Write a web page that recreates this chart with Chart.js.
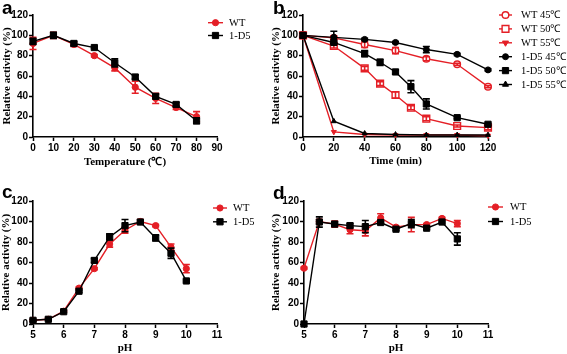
<!DOCTYPE html>
<html><head><meta charset="utf-8">
<script src="https://cdn.jsdelivr.net/npm/chart.js@4"></script>
<style>
body{margin:0;width:567px;height:354px;background:#fff;position:relative;overflow:hidden}
.p{position:absolute}
.lbl{position:absolute;font:bold 19px 'Liberation Sans',Arial,sans-serif;line-height:1;color:#000}
</style></head><body>
<div class="p" style="left:0;top:0"><canvas id="ca" width="266" height="177"></canvas></div>
<div class="p" style="left:266px;top:0"><canvas id="cb" width="301" height="177"></canvas></div>
<div class="p" style="left:0;top:177px"><canvas id="cc" width="266" height="177"></canvas></div>
<div class="p" style="left:266px;top:177px"><canvas id="cd" width="301" height="177"></canvas></div>
<div class="lbl" style="left:2px;top:-2px">a</div>
<div class="lbl" style="left:273px;top:-2px">b</div>
<div class="lbl" style="left:2px;top:182px">c</div>
<div class="lbl" style="left:273px;top:183px">d</div>
<script>
// ---------- data ----------
const activityTicks = [0,20,40,60,80,100,120];
const tempTicks = [0,10,20,30,40,50,60,70,80,90];
const timeTicks = [0,20,40,60,80,100,120];
const pHTicks = [5,6,7,8,9,10,11];

// a: temperature
const tempC = [0,10,20,30,40,50,60,70,80];
const tempWT = [92,100,91,80,68,49,38,29,20];
const tempWTErr = [6,3,2,1,3,6,5,2,5];
const tempD5 = [94,100,92,88,73,59,40,32,16];
const tempD5Err = [3,3,2,1,4,2,2,2,3];

// b: thermostability over time
const timeSet1 = [0,20,40,60,80,100,120];
const timeSet2 = [0,20,40,50,60,70,80,100,120];
const wt45 = [100,97.5,91,85,77,71.5,49.5];
const wt45Err = [2,2,3,3,2,1,1];
const wt50 = [100,89.5,67.5,52.5,41.3,28.8,18,10.8,9.2];
const wt50Err = [3,2,2,2,3,2,2,1,2];
const wt55 = [100,5,2.5,2,2,2,1.3];
const d545 = [100,98,96,93,86,81.3,66];
const d545Err = [2,6,1,1,3,1,1];
const d550 = [100,93,82,73.5,64,49.5,32.5,19,12.5];
const d550Err = [2,1,3,3,2,6,5,1,1];
const d555 = [100,15.5,3.5,2.5,2,2,2];

// c: pH optimum
const pHs = [5,5.5,6,6.5,7,7.5,8,8.5,9,9.5,10];
const optWT = [3.6,4.6,12.5,35,54,78,91.5,100,96,75,54];
const optWTErr = [1,1,1,1,1,3,3,2,1,3,4];
const optD5 = [3.6,4.6,12,32,62,85,96,99.5,84,69,42];
const optD5Err = [1,1,1,1,2,3,6,2,3,5,1];

// d: pH stability
const stabWT = [54.5,100,97.5,92,91,103.5,94.5,97,97,103,98];
const stabWTErr = [1,2,3,4,5,4,1,7,1,1,3];
const stabD5 = [0,99.5,97.5,96,95,99,92.5,98,93.5,99.5,83];
const stabD5Err = [0,5,2,2,6,1,1,4,1,1,6];

// ---------- helpers ----------
const RED = '#e41f26', BLACK = '#000';
const pts = (xs, ys) => xs.map((x,i)=>({x:x, y:ys[i]}));

function drawMarker(ctx, style, r, rot, x, y){
  ctx.beginPath();
  if(style==='circle'){ ctx.arc(x,y,r,0,Math.PI*2); }
  else if(style==='rect'){ const s=r*Math.SQRT1_2; ctx.rect(x-s,y-s,2*s,2*s); }
  else if(style==='triangle'){
    const a = (rot||0)*Math.PI/180;
    for(let k=0;k<3;k++){
      const ang = a - Math.PI/2 + k*2*Math.PI/3;
      const px = x + r*1.2*Math.cos(ang), py = y + r*1.2*Math.sin(ang);
      if(k===0) ctx.moveTo(px,py); else ctx.lineTo(px,py);
    }
    ctx.closePath();
  }
}

const errorBars = {
  id:'errorBars',
  afterDatasetDraw(chart, args){
    const ds = chart.data.datasets[args.index];
    if(!ds.errors) return;
    const ys = chart.scales.y, ctx = chart.ctx;
    ctx.save(); ctx.strokeStyle = ds.borderColor; ctx.lineWidth = 1.6;
    args.meta.data.forEach((pt,i)=>{
      const e = ds.errors[i]; if(!e) return;
      const v = ds.data[i].y;
      const y1 = ys.getPixelForValue(v+e), y2 = ys.getPixelForValue(v-e), x = pt.x, w = 3.5;
      ctx.beginPath();
      ctx.moveTo(x,y1); ctx.lineTo(x,y2);
      ctx.moveTo(x-w,y1); ctx.lineTo(x+w,y1);
      ctx.moveTo(x-w,y2); ctx.lineTo(x+w,y2);
      ctx.stroke();
    });
    ctx.restore();
  }
};

const sideLegend = {
  id:'sideLegend',
  afterDraw(chart, args, o){
    const ctx = chart.ctx;
    chart.data.datasets.forEach((ds,i)=>{
      const y = o.y0 + i*o.dy;
      ctx.save();
      ctx.strokeStyle = ds.borderColor; ctx.lineWidth = 1.4;
      ctx.beginPath(); ctx.moveTo(o.x0,y); ctx.lineTo(o.x1,y); ctx.stroke();
      ctx.fillStyle = ds.pointBackgroundColor; ctx.strokeStyle = ds.pointBorderColor;
      ctx.lineWidth = ds.pointBorderWidth;
      drawMarker(ctx, ds.pointStyle, ds.pointRadius, ds.pointRotation, (o.x0+o.x1)/2, y);
      ctx.fill(); ctx.stroke();
      ctx.fillStyle = '#000'; ctx.font = '10.5px "Liberation Serif", "Times New Roman", serif';
      ctx.textBaseline = 'middle'; ctx.textAlign = 'left';
      ctx.fillText(ds.label, o.tx, y+0.5);
      ctx.restore();
    });
  }
};

function series(label, xs, ys, errs, color, style, r, opts){
  return Object.assign({
    label: label, data: pts(xs, ys), errors: errs,
    borderColor: color, borderWidth: 1.4,
    pointStyle: style, pointRadius: r, pointHoverRadius: r,
    pointBackgroundColor: color, pointBorderColor: color, pointBorderWidth: 1,
    pointRotation: 0, tension: 0, fill: false, clip: false
  }, opts||{});
}

function makeChart(id, g, xTicks, xTitle, datasets, leg){
  datasets.forEach((d,i)=>{ d.order = -i; });
  const tickFont = {family:'"Liberation Sans", Arial, sans-serif', weight:'bold', size:10};
  const titleFont = {family:'"Liberation Serif", "Times New Roman", serif', weight:'bold', size:11, lineHeight:1};
  const axisCommon = {
    grid:{display:true, drawOnChartArea:false, drawTicks:true, tickLength:4, tickWidth:1.5, tickColor:'#000'},
    border:{display:true, color:'#000', width:1.6}
  };
  new Chart(document.getElementById(id), {
    type:'line',
    data:{datasets: datasets},
    options:{
      responsive:false, animation:false, devicePixelRatio:1,
      layout:{padding:{left:0, top:g.t-g.ct, right:g.cl+g.cw-g.r, bottom:0}},
      plugins:{legend:{display:false}, tooltip:{enabled:false},
        sideLegend:{x0:leg.x0-g.cl, x1:leg.x1-g.cl, tx:leg.tx-g.cl, y0:leg.y0-g.ct, dy:leg.dy}},
      scales:{
        x:Object.assign({}, axisCommon, {
          type:'linear', min:xTicks[0], max:xTicks[xTicks.length-1],
          afterBuildTicks:(s)=>{ s.ticks = xTicks.map(v=>({value:v})); },
          afterFit:(s)=>{ s.height = g.ct + g.ch - g.b; },
          ticks:{color:'#000', font:tickFont, padding:1, maxRotation:0, autoSkip:false},
          title:{display:true, text:xTitle, color:'#000', font:titleFont, padding:{top:0, bottom:g.xtp}}
        }),
        y:Object.assign({}, axisCommon, {
          min:0, max:120,
          afterBuildTicks:(s)=>{ s.ticks = activityTicks.map(v=>({value:v})); },
          afterFit:(s)=>{ s.width = g.l - g.cl; },
          ticks:{color:'#000', font:tickFont, padding:1, autoSkip:false},
          title:{display:true, text:'Relative activity (%)', color:'#000', font:titleFont, padding:{top:g.ytp, bottom:0}}
        })
      }
    },
    plugins:[errorBars, sideLegend]
  });
}

// ---------- charts ----------
makeChart('ca', {cl:0, ct:0, cw:266, ch:177, l:33, t:15, r:217, b:137, xtp:9.5, ytp:1.5},
  tempTicks, 'Temperature (\u2103)', [
    series('WT', tempC, tempWT, tempWTErr, RED, 'circle', 3.1),
    series('1-D5', tempC, tempD5, tempD5Err, BLACK, 'rect', 4.4)
  ], {x0:208, x1:223, tx:229, y0:22.7, dy:12.8});

makeChart('cb', {cl:266, ct:0, cw:301, ch:177, l:303, t:15, r:488, b:137, xtp:10.5, ytp:4.5},
  timeTicks, 'Time (min)', [
    series('WT 45\u2103', timeSet1, wt45, wt45Err, RED, 'circle', 3.3, {pointBackgroundColor:'#fff', pointBorderWidth:1.4}),
    series('WT 50\u2103', timeSet2, wt50, wt50Err, RED, 'rect', 4.8, {pointBackgroundColor:'#fff', pointBorderWidth:1.4}),
    series('WT 55\u2103', timeSet1, wt55, null, RED, 'triangle', 2.9, {pointRotation:180}),
    series('1-D5 45\u2103', timeSet1, d545, d545Err, BLACK, 'circle', 3),
    series('1-D5 50\u2103', timeSet2, d550, d550Err, BLACK, 'rect', 4.4),
    series('1-D5 55\u2103', timeSet1, d555, null, BLACK, 'triangle', 2.9)
  ], {x0:499, x1:512, tx:521, y0:15, dy:13.9});

makeChart('cc', {cl:0, ct:177, cw:266, ch:177, l:33, t:201, r:217, b:324, xtp:0.5, ytp:0.5},
  pHTicks, 'pH', [
    series('WT', pHs, optWT, optWTErr, RED, 'circle', 3.1),
    series('1-D5', pHs, optD5, optD5Err, BLACK, 'rect', 4.4)
  ], {x0:213, x1:227, tx:233, y0:208, dy:13.8});

makeChart('cd', {cl:266, ct:177, cw:301, ch:177, l:304, t:201, r:488, b:324, xtp:0.5, ytp:4.5},
  pHTicks, 'pH', [
    series('WT', pHs, stabWT, stabWTErr, RED, 'circle', 3.1),
    series('1-D5', pHs, stabD5, stabD5Err, BLACK, 'rect', 4.4)
  ], {x0:488, x1:503, tx:510, y0:207, dy:14.5});
</script>
</body></html>
